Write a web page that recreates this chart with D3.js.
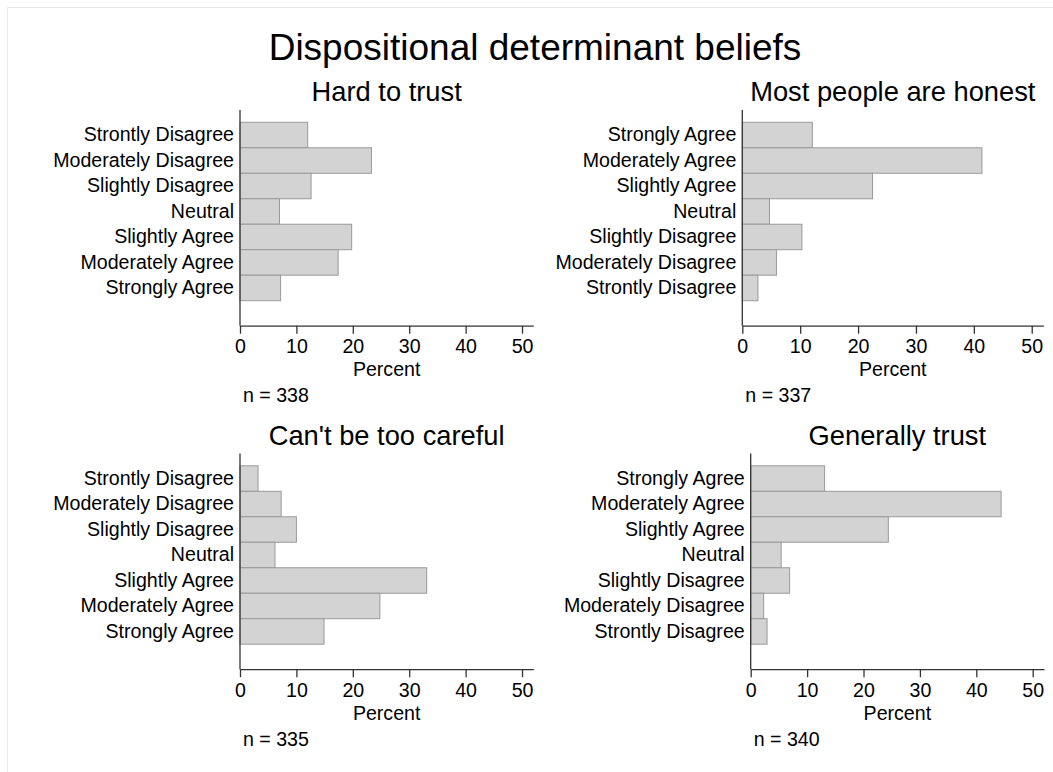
<!DOCTYPE html>
<html>
<head>
<meta charset="utf-8">
<script src="https://cdn.jsdelivr.net/npm/d3@7"></script>
<style>
  body { margin: 0; background: #fff; }
  text { font-family: "Liberation Sans", Arial, Helvetica, sans-serif; fill: #000; }
</style>
</head>
<body>
<div id="chart"></div>
<script>
var width = 1053, height = 772;

// categories, top to bottom
var disagreeFirst = ["Strontly Disagree", "Moderately Disagree", "Slightly Disagree", "Neutral",
                     "Slightly Agree", "Moderately Agree", "Strongly Agree"];
var agreeFirst = ["Strongly Agree", "Moderately Agree", "Slightly Agree", "Neutral",
                  "Slightly Disagree", "Moderately Disagree", "Strontly Disagree"];

// percent per category, same order as the category list used by the panel
var hardToTrust = [12.0, 23.3, 12.6, 7.0, 19.8, 17.4, 7.2];
var mostHonest = [12.1, 41.4, 22.5, 4.7, 10.3, 5.9, 2.7];
var tooCareful = [3.2, 7.3, 10.0, 6.2, 33.1, 24.8, 14.9];
var generallyTrust = [13.1, 44.4, 24.4, 5.4, 6.9, 2.3, 2.9];

var panelTitles = ["Hard to trust", "Most people are honest", "Can't be too careful", "Generally trust"];
var sampleSizes = [338, 337, 335, 340];
var xTicks = [0, 10, 20, 30, 40, 50];

var panels = [
    {title: panelTitles[0], cats: disagreeFirst, vals: hardToTrust, n: sampleSizes[0], x0: 240, x1: 533.3, dy: 0},
    {title: panelTitles[1], cats: agreeFirst, vals: mostHonest, n: sampleSizes[1], x0: 742.3, x1: 1043.3, dy: 0},
    {title: panelTitles[2], cats: disagreeFirst, vals: tooCareful, n: sampleSizes[2], x0: 240, x1: 533.3, dy: 343.5},
    {title: panelTitles[3], cats: agreeFirst, vals: generallyTrust, n: sampleSizes[3], x0: 750.7, x1: 1044, dy: 343.5}
];

var svg = d3.select("#chart").append("svg")
    .attr("width", width)
    .attr("height", height);

svg.append("rect")
    .attr("width", width).attr("height", height)
    .attr("fill", "#fff");

// faint frame at the top and left edges
svg.append("path")
    .attr("d", "M7.5," + height + "V7.5H" + width)
    .attr("fill", "none")
    .attr("stroke", "#e8e8e8");

svg.append("text")
    .attr("x", 535).attr("y", 60)
    .attr("text-anchor", "middle")
    .attr("font-size", 37)
    .text("Dispositional determinant beliefs");

panels.forEach(function(p) {
    var g = svg.append("g").attr("transform", "translate(0," + p.dy + ")");

    var x = d3.scaleLinear().domain([0, 52]).range([p.x0, p.x1]);
    var y = d3.scaleBand().domain(p.cats).range([122.3, 300.7]).padding(0);
    var axisY = 325.7;

    g.append("text")
        .attr("x", (p.x0 + p.x1) / 2).attr("y", 101)
        .attr("text-anchor", "middle")
        .attr("font-size", 27.3)
        .text(p.title);

    g.selectAll(".bar")
        .data(p.cats.map(function(c, i) { return {cat: c, val: p.vals[i]}; }))
        .enter().append("rect")
        .attr("class", "bar")
        .attr("x", x(0))
        .attr("y", function(d) { return y(d.cat); })
        .attr("width", function(d) { return x(d.val) - x(0); })
        .attr("height", y.bandwidth())
        .attr("fill", "#d3d3d3")
        .attr("stroke", "#9a9a9a")
        .attr("stroke-width", 1);

    // category axis
    var yAxis = g.append("g")
        .attr("transform", "translate(" + p.x0 + ",0)")
        .call(d3.axisLeft(y).tickSize(0).tickPadding(6));
    yAxis.select(".domain").remove();
    yAxis.selectAll("text").attr("font-size", 19.6).attr("font-family", null);

    g.append("line")
        .attr("x1", p.x0).attr("x2", p.x0)
        .attr("y1", 110).attr("y2", axisY)
        .attr("stroke", "#333").attr("stroke-width", 1.3);

    var xAxis = g.append("g")
        .attr("transform", "translate(0," + axisY + ")")
        .call(d3.axisBottom(x).tickValues(xTicks).tickSize(8).tickSizeOuter(0).tickPadding(5.5));
    xAxis.select(".domain").attr("stroke", "#333").attr("stroke-width", 1.3);
    xAxis.selectAll(".tick line").attr("stroke", "#333").attr("stroke-width", 1.3);
    xAxis.selectAll("text").attr("font-size", 19.6).attr("font-family", null);

    g.append("text")
        .attr("x", x(26)).attr("y", 376)
        .attr("text-anchor", "middle")
        .attr("font-size", 19.6)
        .text("Percent");

    g.append("text")
        .attr("x", p.x0 + 3).attr("y", 402)
        .attr("font-size", 19.6)
        .text("n = " + p.n);
});
</script>
</body>
</html>
